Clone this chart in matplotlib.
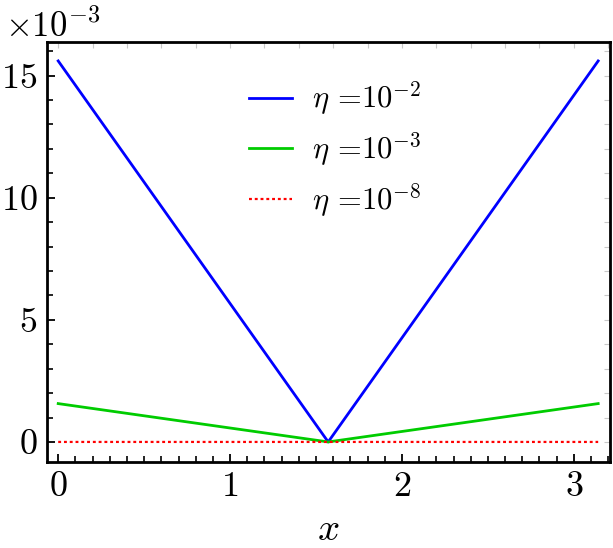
import matplotlib

matplotlib.use("Agg")

import matplotlib.pyplot as plt
from matplotlib.ticker import MultipleLocator

plt.rcParams["font.family"] = "serif"
plt.rcParams["font.serif"] = ["cmr10", "DejaVu Serif"]
plt.rcParams["mathtext.fontset"] = "cm"
plt.rcParams["axes.formatter.use_mathtext"] = True
plt.rcParams["axes.unicode_minus"] = False

x_points = [0.0, 1.5708, 3.1416]
blue_vals = [15.6e-3, 0.0, 15.6e-3]
green_vals = [1.57e-3, 0.0, 1.57e-3]
red_vals = [1.57e-8, 0.0, 1.57e-8]
labels = [r"$\eta$ =$10^{-2}$", r"$\eta$ =$10^{-3}$", r"$\eta$ =$10^{-8}$"]

fig = plt.figure(figsize=(6.13, 5.48), dpi=100)
ax = fig.add_axes([0.077, 0.157, 0.918, 0.767])

ax.plot(x_points, blue_vals, color="#0000ff", lw=2.0, label=labels[0])
ax.plot(x_points, green_vals, color="#00cc00", lw=2.0, label=labels[1])
ax.plot(x_points, red_vals, color="#ff0000", lw=1.6, ls=(0, (1.3, 1.3)), label=labels[2])

ax.set_xlim(-0.064, 3.21)
ax.set_ylim(-0.82e-3, 16.39e-3)

ax.xaxis.set_major_locator(MultipleLocator(1))
ax.xaxis.set_minor_locator(MultipleLocator(0.1))
ax.yaxis.set_major_locator(MultipleLocator(5e-3))
ax.yaxis.set_minor_locator(MultipleLocator(1e-3))
ax.ticklabel_format(axis="y", style="sci", scilimits=(-3, -3), useMathText=True)

ax.tick_params(which="both", direction="in", top=False, right=False, labelsize=26, pad=7)
ax.tick_params(which="major", length=6, width=1.3)
ax.tick_params(which="minor", length=4, width=1.2)

top = ax.secondary_xaxis("top")
top.xaxis.set_major_locator(MultipleLocator(0.2))
top.tick_params(direction="in", length=4, width=0.8, color="#c8c8c8", labeltop=False)
right = ax.secondary_yaxis("right")
right.yaxis.set_major_locator(MultipleLocator(1e-3))
right.tick_params(direction="in", length=4, width=0.8, color="#c8c8c8", labelright=False)
for sec in (top, right):
    for sp in sec.spines.values():
        sp.set_visible(False)

for sp in ax.spines.values():
    sp.set_linewidth(2.0)

offset = ax.yaxis.get_offset_text()
offset.set_fontsize(25)
offset.set_x(-0.075)

ax.set_xlabel(r"$x$", fontsize=28, labelpad=6)

ax.legend(loc="upper left", bbox_to_anchor=(0.31, 0.975), frameon=False, fontsize=22,
          handlelength=1.4, handletextpad=0.65, labelspacing=0.42)

fig.savefig("out.png", dpi=100)
